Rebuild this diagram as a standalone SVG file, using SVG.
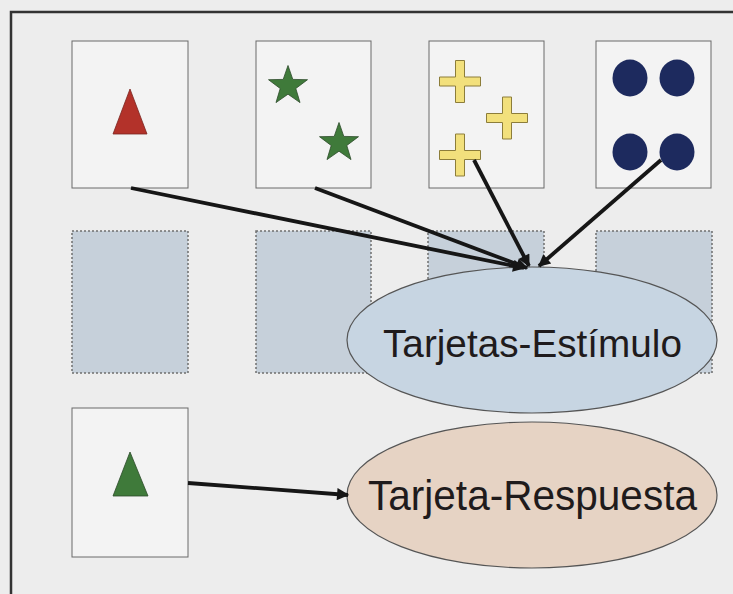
<svg xmlns="http://www.w3.org/2000/svg" width="733" height="594" viewBox="0 0 733 594">
  <style>
    .card { fill: #f3f3f3; stroke: #6a6a6a; stroke-width: 1; }
    .slot { fill: #c6d0da; stroke: #6f6f6f; stroke-width: 1.5; stroke-dasharray: 2 2; }
    .oval { stroke: #555; stroke-width: 1.2; }
    .label { font-family: "Liberation Sans", Arial, sans-serif; fill: #1f1b1c; text-anchor: middle; }
    .link { fill: none; stroke: #161616; stroke-width: 3.8; marker-end: url(#head); }
    .star { fill: #3f7a3a; stroke: #2c4a2a; stroke-width: 0.8; }
    .cross { fill: #f2e07c; stroke: #8c7d3a; stroke-width: 1; }
    .dot { fill: #1d2a5e; }
  </style>
  <defs>
    <marker id="head" viewBox="0 0 10 10" refX="9" refY="5" markerWidth="3.8" markerHeight="3.2" orient="auto" markerUnits="strokeWidth">
      <path d="M0,0 L10,5 L0,10 Z" fill="#161616"/>
    </marker>
    <path id="starShape" d="M0,-20.5 L4.8,-6.6 L19.5,-6.3 L7.8,2.5 L12,16.6 L0,8.2 L-12,16.6 L-7.8,2.5 L-19.5,-6.3 L-4.8,-6.6 Z"/>
    <path id="crossShape" d="M-4.5,-21 H4.5 V-4.5 H20.5 V4.5 H4.5 V21 H-4.5 V4.5 H-20.5 V-4.5 H-4.5 Z"/>
  </defs>

  <!-- page background and frame -->
  <rect x="0" y="0" width="733" height="594" fill="#ededed"/>
  <path d="M11,600 V12 H740" fill="none" stroke="#333" stroke-width="2.5"/>

  <!-- stimulus cards -->
  <g id="card-triangle">
    <rect class="card" x="72" y="41" width="116" height="147"/>
    <polygon points="130,89 113,134 147,134" fill="#b3322a" stroke="#7a2520" stroke-width="0.8"/>
  </g>
  <g id="card-stars">
    <rect class="card" x="256" y="41" width="115" height="147"/>
    <use href="#starShape" class="star" transform="translate(288,86)"/>
    <use href="#starShape" class="star" transform="translate(339,143)"/>
  </g>
  <g id="card-crosses">
    <rect class="card" x="429" y="41" width="115" height="147"/>
    <use href="#crossShape" class="cross" transform="translate(460,81.5)"/>
    <use href="#crossShape" class="cross" transform="translate(507,118)"/>
    <use href="#crossShape" class="cross" transform="translate(460,155)"/>
  </g>
  <g id="card-circles">
    <rect class="card" x="596" y="41" width="115" height="147"/>
    <ellipse class="dot" cx="630" cy="78" rx="17.5" ry="18.5"/>
    <ellipse class="dot" cx="677" cy="78" rx="17.5" ry="18.5"/>
    <ellipse class="dot" cx="630" cy="152" rx="17.5" ry="18.5"/>
    <ellipse class="dot" cx="677" cy="152" rx="17.5" ry="18.5"/>
  </g>

  <!-- empty placement slots -->
  <g id="slot-1"><rect class="slot" x="72" y="231" width="116" height="142"/></g>
  <g id="slot-2"><rect class="slot" x="256" y="231" width="115" height="142"/></g>
  <g id="slot-3"><rect class="slot" x="428" y="231" width="116" height="142"/></g>
  <g id="slot-4"><rect class="slot" x="596" y="231" width="116" height="142"/></g>

  <!-- response card -->
  <g id="card-response">
    <rect class="card" x="72" y="408" width="116" height="149"/>
    <polygon points="130,452 113,496 148,496" fill="#3f7a3a" stroke="#2c4a2a" stroke-width="0.8"/>
  </g>

  <!-- labels -->
  <g id="stimulus-label">
    <ellipse class="oval" cx="532" cy="340" rx="185" ry="73" fill="#c7d5e2"/>
    <text class="label" x="532.5" y="357" font-size="38" textLength="299" lengthAdjust="spacingAndGlyphs">Tarjetas-Estímulo</text>
  </g>
  <g id="response-label">
    <ellipse class="oval" cx="532" cy="495" rx="185" ry="73" fill="#e6d3c4"/>
    <text class="label" x="532.5" y="510" font-size="42" textLength="329" lengthAdjust="spacingAndGlyphs">Tarjeta-Respuesta</text>
  </g>

  <!-- connectors -->
  <g id="connectors">
    <path class="link" d="M131,188 L524,268"/>
    <path class="link" d="M315,188 L527,268"/>
    <path class="link" d="M474,160 L529,266"/>
    <path class="link" d="M661,160 L539,266"/>
    <path class="link" d="M188,483 L348,495"/>
  </g>
</svg>
